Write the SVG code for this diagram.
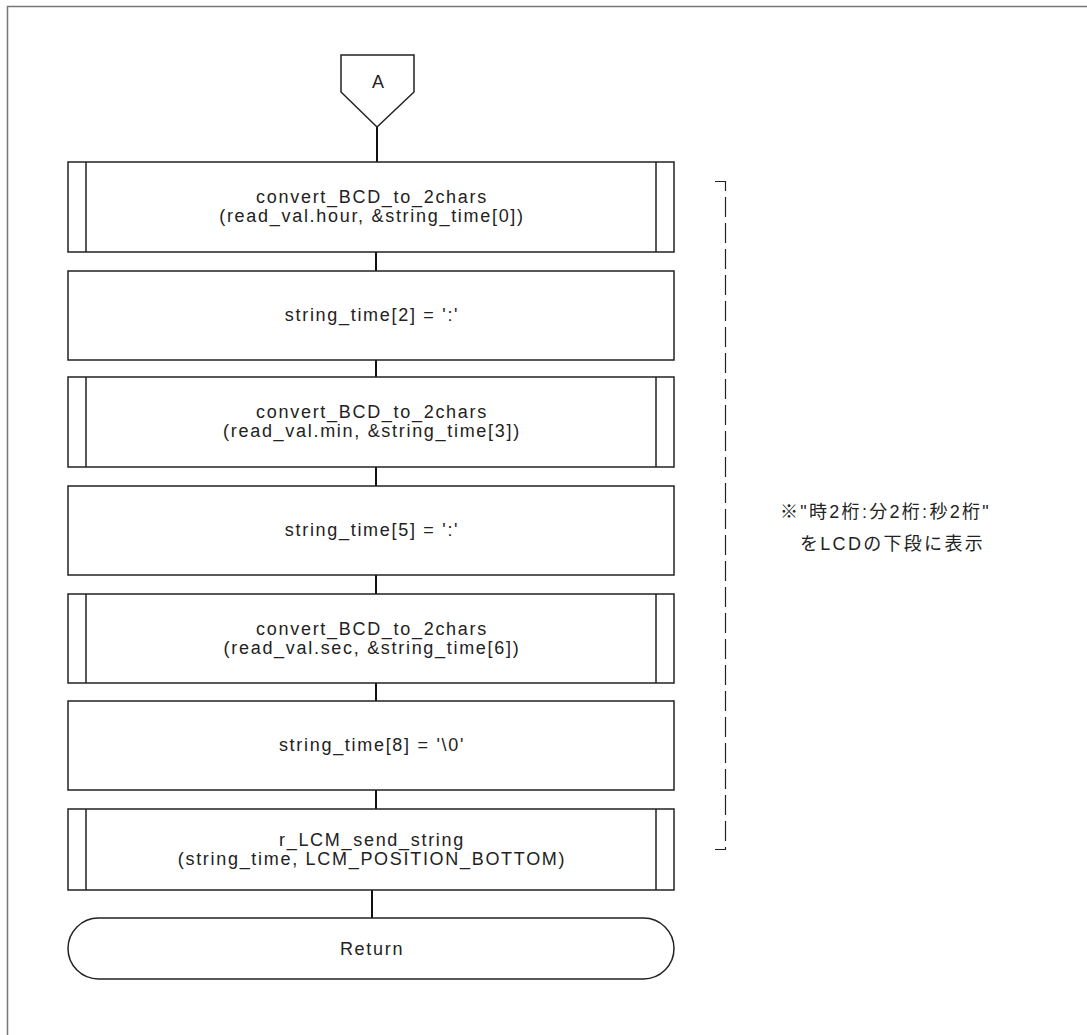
<svg xmlns="http://www.w3.org/2000/svg" width="1087" height="1035" viewBox="0 0 1087 1035">
<style>
.box{fill:#fff;stroke:#222;stroke-width:1.5}
.sub{fill:none;stroke:#222;stroke-width:1.5}
.t{font-family:"Liberation Sans",Arial,sans-serif;font-size:18px;letter-spacing:1.7px;fill:#222;text-anchor:middle}
.j{font-family:"Liberation Sans","Noto Sans CJK JP",sans-serif;font-size:18px;letter-spacing:2.3px;fill:#222}
.c{stroke:#111;stroke-width:2;fill:none}
</style>
<rect width="1087" height="1035" fill="#fff"/>
<path d="M7.5,1035 V6.5 H1087" fill="none" stroke="#777" stroke-width="1.5"/>
<g id="connectors">
<line class="c" x1="377" y1="127" x2="377" y2="162"/>
<line class="c" x1="376" y1="252" x2="376" y2="271"/>
<line class="c" x1="376" y1="360" x2="376" y2="377"/>
<line class="c" x1="376" y1="467" x2="376" y2="486"/>
<line class="c" x1="376" y1="575" x2="376" y2="594"/>
<line class="c" x1="376" y1="683" x2="376" y2="701"/>
<line class="c" x1="376" y1="790" x2="376" y2="809"/>
<line class="c" x1="372" y1="890" x2="372" y2="918"/>
</g>
<g id="nodeA">
<polygon class="box" points="341,55 414,55 414,92 377,127 341,92"/>
<text class="t" x="378" y="88" style="letter-spacing:0">A</text>
</g>
<g id="node1">
<rect class="box" x="68" y="162" width="606" height="90"/>
<path class="sub" d="M86,162V252M656,162V252"/>
<text class="t" x="372" y="203">convert_BCD_to_2chars</text>
<text class="t" x="372" y="222">(read_val.hour, &amp;string_time[0])</text>
</g>
<g id="node2">
<rect class="box" x="68" y="271" width="606" height="89"/>
<text class="t" x="372" y="321">string_time[2] = ':'</text>
</g>
<g id="node3">
<rect class="box" x="68" y="377" width="606" height="90"/>
<path class="sub" d="M86,377V467M656,377V467"/>
<text class="t" x="372" y="418">convert_BCD_to_2chars</text>
<text class="t" x="372" y="437">(read_val.min, &amp;string_time[3])</text>
</g>
<g id="node4">
<rect class="box" x="68" y="486" width="606" height="89"/>
<text class="t" x="372" y="536">string_time[5] = ':'</text>
</g>
<g id="node5">
<rect class="box" x="68" y="594" width="606" height="89"/>
<path class="sub" d="M86,594V683M656,594V683"/>
<text class="t" x="372" y="635">convert_BCD_to_2chars</text>
<text class="t" x="372" y="654">(read_val.sec, &amp;string_time[6])</text>
</g>
<g id="node6">
<rect class="box" x="68" y="701" width="606" height="89"/>
<text class="t" x="372" y="751">string_time[8] = '\0'</text>
</g>
<g id="node7">
<rect class="box" x="68" y="809" width="606" height="81"/>
<path class="sub" d="M86,809V890M656,809V890"/>
<text class="t" x="372" y="846">r_LCM_send_string</text>
<text class="t" x="372" y="865">(string_time, LCM_POSITION_BOTTOM)</text>
</g>
<g id="nodeReturn">
<rect class="box" x="68" y="918" width="606" height="61" rx="30.5" ry="30.5"/>
<text class="t" x="372" y="955">Return</text>
</g>
<g id="note">
<path d="M715,181.5H725.5V849.5H715" fill="none" stroke="#222" stroke-width="1.2" stroke-dasharray="20,6"/>
<text class="j" x="780" y="518">※"時2桁:分2桁:秒2桁"</text>
<text class="j" x="800" y="550">をLCDの下段に表示</text>
</g>
</svg>
